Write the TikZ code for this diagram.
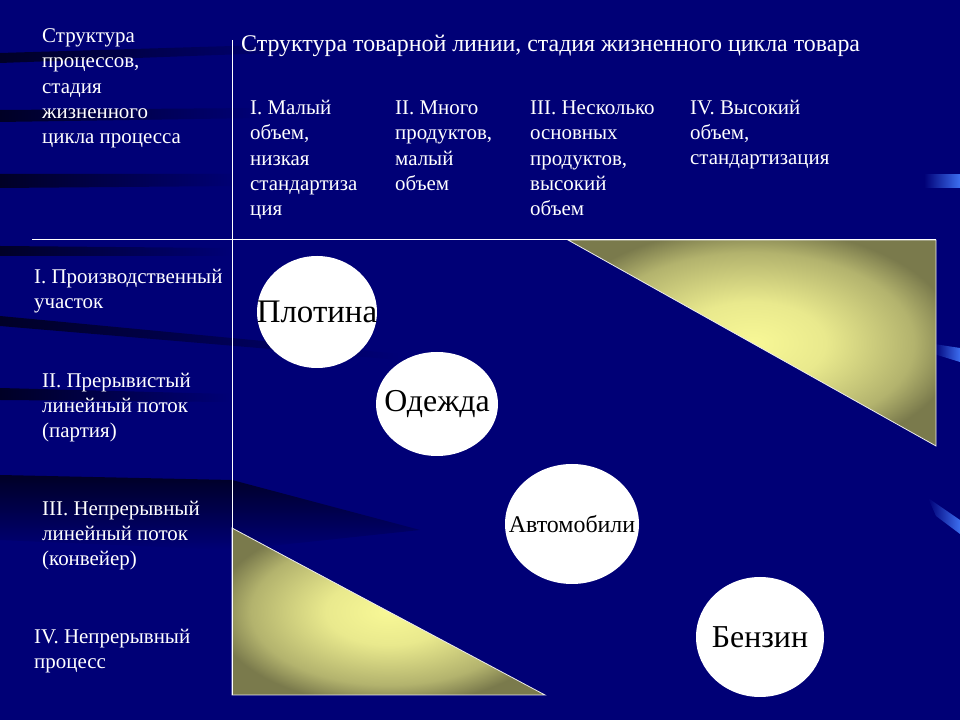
\documentclass[tikz,border=0pt]{standalone}
\usepackage{fontspec}
\setmainfont{Liberation Serif}
\usetikzlibrary{shapes.geometric}
\definecolor{navy}{RGB}{0,0,118}
\definecolor{streak}{RGB}{0,0,38}
\definecolor{olive}{RGB}{122,122,76}
\definecolor{lemon}{RGB}{248,248,150}
\definecolor{accent}{RGB}{60,110,240}
\pgfdeclareradialshading{glow}{\pgfpoint{0bp}{0bp}}{color(0bp)=(lemon); color(10bp)=(lemon!88!olive); color(22bp)=(lemon!45!olive); color(28bp)=(olive); color(50bp)=(olive)}
\tikzset{
  hdr/.style={text=white,anchor=base west,align=left,inner sep=0pt,font=\fontsize{21}{25.5}\selectfont},
  prod/.style={ellipse,fill=white,draw=none,inner sep=0pt},
  prodtext/.style={text=black,inner sep=0pt,font=\fontsize{32}{38}\selectfont},
  wedge/.style={draw=white!85!gray,line width=0.8bp,shading=glow},
  axis/.style={draw=white,line width=1bp},
}
\begin{document}
\begin{tikzpicture}
  \useasboundingbox (0bp,0bp) rectangle (960bp,720bp);
	%% background
  \fill[navy] (0bp,0bp) rectangle (960bp,720bp);
  \shade[left color=streak,right color=navy] (0bp,667bp) -- (300bp,676bp) -- (300bp,668bp) -- (0bp,657bp) -- cycle;
  \shade[left color=streak,right color=navy] (0bp,610bp) -- (260bp,612bp) -- (260bp,602bp) -- (0bp,598bp) -- cycle;
  \shade[left color=streak,right color=navy] (0bp,546bp) -- (240bp,546bp) -- (240bp,534bp) -- (0bp,532bp) -- cycle;
  \shade[left color=streak,right color=navy] (0bp,474bp) -- (230bp,472bp) -- (230bp,464bp) -- (0bp,464bp) -- cycle;
  \shade[left color=streak,right color=navy] (0bp,404bp) -- (400bp,366bp) -- (400bp,360bp) -- (0bp,394bp) -- cycle;
  \shade[left color=streak,right color=navy] (0bp,332bp) -- (230bp,326bp) -- (230bp,318bp) -- (0bp,320bp) -- cycle;
  \shade[top color=streak,bottom color=navy] (0bp,245bp) -- (232bp,240bp) -- (420bp,190bp) -- (232bp,170bp) -- (0bp,180bp) -- cycle;
  \shade[left color=navy,right color=accent] (924bp,545bp) -- (960bp,545bp) -- (960bp,532bp) -- (924bp,532bp) -- cycle;
  \shade[left color=navy,right color=accent] (934bp,376bp) -- (960bp,372bp) -- (960bp,358bp) -- (934bp,366bp) -- cycle;
  \shade[left color=navy,right color=accent] (928bp,222bp) -- (960bp,200bp) -- (960bp,186bp) -- (936bp,204bp) -- cycle;
		%
  \coordinate (hL) at (32bp,480bp);
  \coordinate (hR) at (936bp,480bp);
  \coordinate (vT) at (232bp,680bp);
  \coordinate (vB) at (232bp,25bp);
  \coordinate (TopA) at (568bp,480bp);
  \coordinate (TopB) at (936bp,274bp);
  \coordinate (LowA) at (232bp,192bp);
  \coordinate (LowB) at (545bp,25bp);
  \shade[wedge] (TopA) -- (hR) -- (TopB) -- cycle;
  \shade[wedge] (LowA) -- (vB) -- (LowB) -- cycle;
  \draw[axis] (hL) -- (hR);
  \draw[axis] (vT) -- (vB);
		%
  \node (Title) at (241bp,668bp) [hdr,font=\fontsize{24}{29}\selectfont] {Структура товарной линии, стадия жизненного цикла товара};
  \node (ProcHdr) at (42bp,576bp) [hdr] {Структура\\процессов,\\стадия\\жизненного\\цикла процесса};
  \node (ColI) at (250bp,504bp) [hdr] {I. Малый\\объем,\\низкая\\стандартиза\\ция};
  \node (ColII) at (395bp,529.5bp) [hdr] {II. Много\\продуктов,\\малый\\объем};
  \node (ColIII) at (530bp,504bp) [hdr] {III. Несколько\\основных\\продуктов,\\высокий\\объем};
  \node (ColIV) at (690bp,555bp) [hdr] {IV. Высокий\\объем,\\стандартизация};
  \node (RowI) at (34bp,411.5bp) [hdr] {I. Производственный\\участок};
  \node (RowII) at (42bp,282bp) [hdr] {II. Прерывистый\\линейный поток\\(партия)};
  \node (RowIII) at (42bp,154bp) [hdr] {III. Непрерывный\\линейный поток\\(конвейер)};
  \node (RowIV) at (34bp,51.5bp) [hdr] {IV. Непрерывный\\процесс};
		%
  \node (Plotina) at (317bp,408bp) [prod,minimum width=120bp,minimum height=112bp,label={[prodtext,font=\fontsize{33}{38}\selectfont]center:Плотина}] {};
  \node (Odezhda) at (437bp,316bp) [prod,minimum width=122bp,minimum height=104bp,label={[prodtext]center:Одежда}] {};
  \node (Avto) at (572bp,196bp) [prod,minimum width=134bp,minimum height=120bp,label={[prodtext,font=\fontsize{24}{28}\selectfont]center:Автомобили}] {};
  \node (Benzin) at (760bp,83bp) [prod,minimum width=128bp,minimum height=120bp,label={[prodtext]center:Бензин}] {};
		%
\end{tikzpicture}
\end{document}
